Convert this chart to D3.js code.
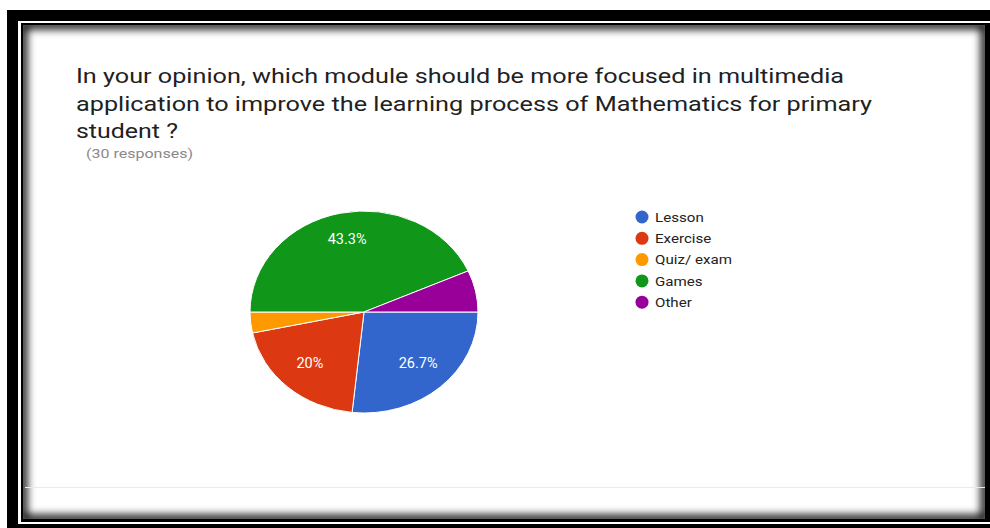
<!DOCTYPE html>
<html>
<head>
<meta charset="utf-8">
<script src="https://cdn.jsdelivr.net/npm/d3@7"></script>
<style>
  html, body { margin: 0; padding: 0; background: #fff; }
  svg { display: block; }
  text { font-family: Roboto, Arial, sans-serif; }
</style>
</head>
<body>
<svg id="chart" width="990" height="528"></svg>
<script>
// Survey answers (30 responses)
const categories = ["Lesson", "Exercise", "Quiz/ exam", "Games", "Other"];
const counts = [8, 6, 1, 13, 2];
const colors = ["#3366cc", "#dc3912", "#ff9900", "#109618", "#990099"];
const titleLines = [
  "In your opinion, which module should be more focused in multimedia",
  "application to improve the learning process of Mathematics for primary",
  "student ?"
];
const subtitle = "(30 responses)";

const svg = d3.select("#chart");
const W = 990, H = 528;

// ---- framed card ----
const defs = svg.append("defs");
defs.append("clipPath").attr("id", "cardClip")
  .append("rect").attr("x", 23).attr("y", 25).attr("width", 962).attr("height", 494);
const blur = defs.append("filter").attr("id", "soft")
  .attr("x", "-5%").attr("y", "-5%").attr("width", "110%").attr("height", "110%");
blur.append("feGaussianBlur").attr("stdDeviation", 4);

svg.append("rect").attr("x", 0).attr("y", 0).attr("width", W).attr("height", H).attr("fill", "#fff");
svg.append("rect").attr("x", 7).attr("y", 10).attr("width", W).attr("height", H).attr("fill", "#000");
svg.append("rect").attr("x", 18).attr("y", 21).attr("width", W).attr("height", 503).attr("fill", "#fff");
svg.append("rect").attr("x", 21).attr("y", 23).attr("width", W).attr("height", 499).attr("fill", "#000");
svg.append("rect").attr("x", 23).attr("y", 25).attr("width", 962).attr("height", 494).attr("fill", "#fff");
// inner shadow along the card edges
svg.append("g").attr("clip-path", "url(#cardClip)")
  .append("rect")
  .attr("x", 23).attr("y", 25).attr("width", 962).attr("height", 494)
  .attr("fill", "none").attr("stroke", "#000").attr("stroke-width", 8)
  .attr("filter", "url(#soft)");

// footer divider
svg.append("line").attr("x1", 25).attr("x2", 985).attr("y1", 487.5).attr("y2", 487.5)
  .attr("stroke", "#ebebeb").attr("stroke-width", 1);

// ---- title ----
const titleWidths = [768, 796, 102];
svg.append("g").selectAll("text").data(titleLines).join("text")
  .attr("x", 76)
  .attr("y", (d, i) => 83 + i * 27.5)
  .attr("font-size", 21)
  .attr("fill", "#212121")
  .attr("textLength", (d, i) => titleWidths[i])
  .attr("lengthAdjust", "spacingAndGlyphs")
  .text(d => d);

svg.append("text")
  .attr("x", 86).attr("y", 158)
  .attr("font-size", 13)
  .attr("font-family", "'Liberation Sans', Arial, sans-serif")
  .attr("fill", "#8a8a8a")
  .attr("textLength", 107)
  .attr("lengthAdjust", "spacingAndGlyphs")
  .text(subtitle);

// ---- pie ----
const cx = 364, cy = 312, rx = 114, ry = 101;
const total = d3.sum(counts);
const data = categories.map((c, i) => ({ name: c, value: counts[i], color: colors[i] }));

const pie = d3.pie().value(d => d.value).sort(null)
  .startAngle(Math.PI / 2).endAngle(Math.PI / 2 + 2 * Math.PI);
const arcs = pie(data);
const arc = d3.arc().innerRadius(0).outerRadius(ry);
const labelArc = d3.arc().innerRadius(ry * 0.42).outerRadius(ry);

const pieG = svg.append("g")
  .attr("transform", `translate(${cx},${cy}) scale(${rx / ry},1)`);
pieG.selectAll("path").data(arcs).join("path")
  .attr("d", arc)
  .attr("fill", d => d.data.color)
  .attr("stroke", "#fff")
  .attr("stroke-width", 1)
  .attr("vector-effect", "non-scaling-stroke");

// percentage labels on the larger slices
const fmt = v => { const p = Math.round(v / total * 1000) / 10; return p + "%"; };
svg.append("g").selectAll("text")
  .data(arcs.filter(d => d.value / total >= 0.1))
  .join("text")
  .attr("x", d => cx + labelArc.centroid(d)[0] * rx / ry)
  .attr("y", d => cy + labelArc.centroid(d)[1] - 2.5)
  .attr("dy", "0.35em")
  .attr("text-anchor", "middle")
  .attr("font-size", 14.5)
  .attr("fill", "#fff")
  .text(d => fmt(d.value));

// ---- legend ----
const legend = svg.append("g").selectAll("g").data(data).join("g")
  .attr("transform", (d, i) => `translate(642,${217 + i * 21.3})`);
legend.append("circle").attr("r", 6.5).attr("fill", d => d.color);
legend.append("text")
  .attr("transform", "translate(13,0) scale(1.12,1)")
  .attr("dy", "0.35em")
  .attr("font-size", 13.5)
  .attr("font-family", "'Liberation Sans', Arial, sans-serif")
  .attr("fill", "#222")
  .text(d => d.name);
</script>
</body>
</html>
